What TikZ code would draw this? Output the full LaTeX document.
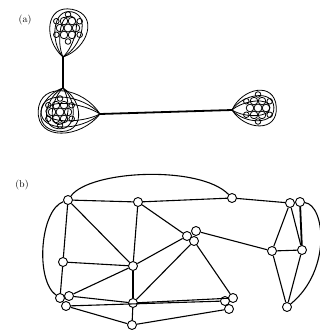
\documentclass[tikz,border=0pt]{standalone}
\tikzset{
  edge/.style={line width=1.1pt},
  thick edge/.style={line width=1.8pt},
  gnode/.style={circle,draw,line width=0.9pt,fill=white,minimum size=9pt,inner sep=0pt},
  mini/.style={line width=0.8pt},
  pics/balls/.style={code={
    \draw[mini] (0,0) circle (4pt);
    \foreach \a in {0,60,...,300} \draw[mini] (\a:8) circle (3.8pt);
    \foreach \a in {30,90,...,330} \draw[mini] (\a:13.5) circle (2.8pt);
  }},
  pics/loops/.style args={#1/#2}{code={
    \foreach \w/\l in {0.55/0.75, 0.95/1.0, 1.35/1.15} {
      \draw[mini] (0,0) .. controls ({0.45*#1},{\w*#2}) and ({#1+\l*#2},{1.2*\w*#2}) .. ({#1+\l*#2},0)
                        .. controls ({#1+\l*#2},{-1.2*\w*#2}) and ({0.45*#1},{-\w*#2}) .. (0,0);
    }
  }},
}
\begin{document}
\begin{tikzpicture}[x=1pt,y=-1pt]
\useasboundingbox (0,0) rectangle (320,333);

% ---------- (a) ----------
\node (la) at (25,20) {(a)};
\coordinate (t1) at (63,57);
\coordinate (t2) at (63,88);
\coordinate (t3) at (100,114);
\coordinate (t4) at (232,110);

\pic at (68,28) {balls};
\pic[rotate=79] at (t1) {loops=29/17};

\pic at (60,112) {balls};
\pic[rotate=177] at (t3) {loops=40/19};
\pic[rotate=263] at (t2) {loops=24/17};

\pic at (258,108) {balls};
\pic[rotate=4] at (t4) {loops=26/16};

\draw[thick edge] (t1) -- (t2);
\draw[thick edge] (t3) -- (t4);

% ---------- (b) ----------
\node (lb) at (22,185) {(b)};

\node[gnode] (A)  at (68,200) {};
\node[gnode] (B)  at (138,202) {};
\node[gnode] (C)  at (232,198) {};
\node[gnode] (D1) at (290,203) {};
\node[gnode] (D2) at (300,202) {};
\node[gnode] (E1) at (187,236) {};
\node[gnode] (E2) at (196,231) {};
\node[gnode] (E3) at (194,241) {};
\node[gnode] (F)  at (272,251) {};
\node[gnode] (G)  at (302,250) {};
\node[gnode] (H)  at (63,262) {};
\node[gnode] (I)  at (133,266) {};
\node[gnode] (J1) at (60,298) {};
\node[gnode] (J2) at (69,296) {};
\node[gnode] (J3) at (66,306) {};
\node[gnode] (K)  at (133,303) {};
\node[gnode] (L1) at (225,301) {};
\node[gnode] (L2) at (233,298) {};
\node[gnode] (L3) at (229,309) {};
\node[gnode] (M)  at (132,325) {};
\node[gnode] (N)  at (287,307) {};

\draw[edge] (A) -- (B);
\draw[edge] (B) -- (C);
\draw[edge] (C) -- (D1);
\draw[edge] (A) .. controls (90,170) and (200,165) .. (C);
\draw[edge] (A) .. controls (40,210) and (35,280) .. (J1);
\draw[edge] (D2) .. controls (325,205) and (332,270) .. (N);
\draw[edge] (A) -- (H);
\draw[edge] (A) -- (I);
\draw[edge] (H) -- (I);
\draw[edge] (H) -- (J1);
\draw[edge] (J2) -- (I);
\draw[edge] (B) -- (I);
\draw[edge] (B) -- (E1);
\draw[edge] (I) -- (E1);
\draw[edge] (I) -- (K);
\draw[edge] (K) -- (M);
\draw[edge] (K) -- (E3);
\draw[edge] (E2) -- (F);
\draw[edge] (E3) -- (L2);
\draw[edge] (J2) -- (K);
\draw[edge] (J3) -- (L1);
\draw[edge] (K) -- (L2);
\draw[edge] (J3) -- (M);
\draw[edge] (M) -- (L3);
\draw[edge] (D1) -- (F);
\draw[edge] (D1) -- (G);
\draw[thick edge] (D2) -- (G);
\draw[edge] (F) -- (G);
\draw[edge] (F) -- (N);
\draw[edge] (G) -- (N);
\end{tikzpicture}
\end{document}
